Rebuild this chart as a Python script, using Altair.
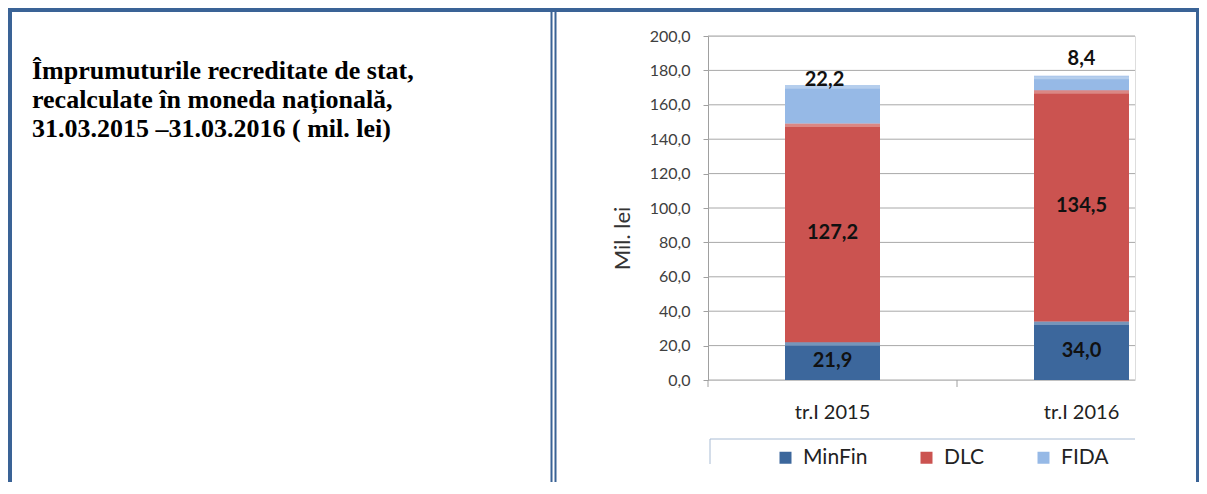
import altair as alt
import pandas as pd

# ---------------- data ----------------
categories = ["tr.I 2015", "tr.I 2016"]
series = ["MinFin", "DLC", "FIDA"]
minfin = [21.9, 34.0]
dlc = [127.2, 134.5]
fida = [22.2, 8.4]
y_ticks = [0, 20, 40, 60, 80, 100, 120, 140, 160, 180, 200]
colors = ["#3C679C", "#CB5350", "#96B9E6"]
title_lines = [
    "Împrumuturile recreditate de stat,",
    "recalculate în moneda națională,",
    "31.03.2015 –31.03.2016 ( mil. lei)",
]
y_title = "Mil. lei"

rows = []
for i, c in enumerate(categories):
    for k, (s, vals) in enumerate(zip(series, [minfin, dlc, fida])):
        rows.append({"cat": c, "series": s, "value": vals[i], "order": k})
df = pd.DataFrame(rows)
ticks_df = pd.DataFrame({"v": y_ticks})
cat_df = pd.DataFrame({"cat": categories})
dummy = pd.DataFrame({"k": [0]})
title_df = pd.DataFrame({"txt": ["\n".join(title_lines)]})

FRAME = "#3A6396"
FONT = "Lato"

# ---------------- layout ----------------
W, H = 427, 344
PAD = {"left": 700, "top": 28, "right": 64, "bottom": 102}

xscale = alt.Scale(domain=categories, range=[0, 498], paddingInner=0, paddingOuter=0)
yscale = alt.Scale(domain=[0, 200])

base = (
    alt.Chart(df)
    .transform_stack(stack="value", groupby=["cat"], as_=["y0", "y1"],
                     sort=[alt.SortField("order", order="ascending")])
    .transform_calculate(mid="(datum.y0 + datum.y1) / 2",
                         label="replace(format(datum.value, '.1f'), '.', ',')")
)

x_enc = alt.X("cat:N", sort=categories, scale=xscale,
              axis=alt.Axis(title=None, domain=False, ticks=False, tickSize=0,
                            labelAngle=0, labelFontSize=20, labelFont=FONT,
                            labelColor="#222222", labelPadding=22, grid=False))
y_axis = alt.Axis(values=y_ticks, grid=False, labelOverlap=False,
                  labelExpr="replace(format(datum.value, '.1f'), '.', ',')",
                  title=y_title, titleX=-86, titleY=202, titleAlign="center",
                  titleBaseline="middle", titleFont=FONT, titleFontSize=22,
                  titleFontWeight="normal", titleColor="#333333",
                  labelFont=FONT, labelFontSize=16, labelColor="#404040",
                  labelPadding=13, tickSize=5, tickColor="#A0A0A0",
                  domainColor="#A0A0A0")


def Y(field):
    return alt.Y(field, scale=yscale, axis=y_axis, title=y_title)


grid = alt.Chart(ticks_df).mark_rule(color="#A8A8A8", strokeWidth=1).encode(
    y=Y("v:Q"),
    x=alt.value(0), x2=alt.value(W),
)

bars = base.mark_bar(size=95).encode(
    x=x_enc,
    y=Y("y0:Q"),
    y2="y1:Q",
    color=alt.Color("series:N", scale=alt.Scale(domain=series, range=colors),
                    legend=alt.Legend(orient="none", legendX=67, legendY=411,
                                      direction="horizontal", title=None,
                                      symbolType="square", symbolSize=144,
                                      symbolStrokeWidth=0, labelFont=FONT,
                                      labelFontSize=21, labelColor="#222222",
                                      columnPadding=48, labelOffset=7)),
)

highlight = base.mark_tick(orient="horizontal", size=95, thickness=3,
                           color="white", opacity=0.3, yOffset=2).encode(
    x=alt.X("cat:N", sort=categories),
    y=Y("y1:Q"),
)

xticks = alt.Chart(cat_df).mark_rule(color="#A0A0A0", strokeWidth=1).encode(
    x=alt.X("cat:N", sort=categories, bandPosition=0),
    y=alt.value(H), y2=alt.value(H + 7),
)

inner_labels = base.transform_filter("datum.series != 'FIDA'").mark_text(
    font=FONT, fontSize=20, fontWeight="bold", color="#111111", baseline="middle"
).encode(x=alt.X("cat:N", sort=categories), y=Y("mid:Q"), text="label:N")

top1 = base.transform_filter(
    f"datum.series == 'FIDA' && datum.cat == '{categories[0]}'"
).mark_text(font=FONT, fontSize=20, fontWeight="bold", color="#111111",
            baseline="middle", dy=-5, dx=-8).encode(
    x=alt.X("cat:N", sort=categories), y=Y("y1:Q"), text="label:N")

top2 = base.transform_filter(
    f"datum.series == 'FIDA' && datum.cat == '{categories[1]}'"
).mark_text(font=FONT, fontSize=20, fontWeight="bold", color="#111111",
            baseline="middle", dy=-17).encode(
    x=alt.X("cat:N", sort=categories), y=Y("y1:Q"), text="label:N")


def hline(y, x1, x2, w, color):
    return alt.Chart(dummy).mark_rule(color=color, strokeWidth=w).encode(
        y=alt.value(y), x=alt.value(x1), x2=alt.value(x2))


def vline(x, y1, y2, w, color):
    return alt.Chart(dummy).mark_rule(color=color, strokeWidth=w).encode(
        x=alt.value(x), y=alt.value(y1), y2=alt.value(y2))


frame = [
    hline(-26, -700, 491, 4, FRAME),
    vline(-698, -28, 446, 4, FRAME),
    vline(-156.5, -26, 446, 2, FRAME),
    vline(-152.5, -26, 446, 2, FRAME),
    vline(489.5, -26, 446, 3, FRAME),
    hline(403, 2, W, 1, "#A9BCD4"),
    vline(2, 403, 428, 1, "#A9BCD4"),
]

title = alt.Chart(title_df).mark_text(
    align="left", baseline="alphabetic", font="Liberation Serif",
    fontWeight="bold", fontSize=26, lineHeight=29, lineBreak="\n", color="#000000"
).encode(x=alt.value(-676), y=alt.value(43), text="txt:N")

chart = (
    alt.layer(grid, bars, highlight, xticks, inner_labels, top1, top2, title, *frame)
    .properties(width=W, height=H, padding=PAD,
                autosize=alt.AutoSizeParams(type="none"))
    .configure_view(stroke=None)
    .configure_axis(labelOverlap=False)
    .configure(background="white")
)

chart.save("out.html", embed_options={"renderer": "svg", "actions": False})
